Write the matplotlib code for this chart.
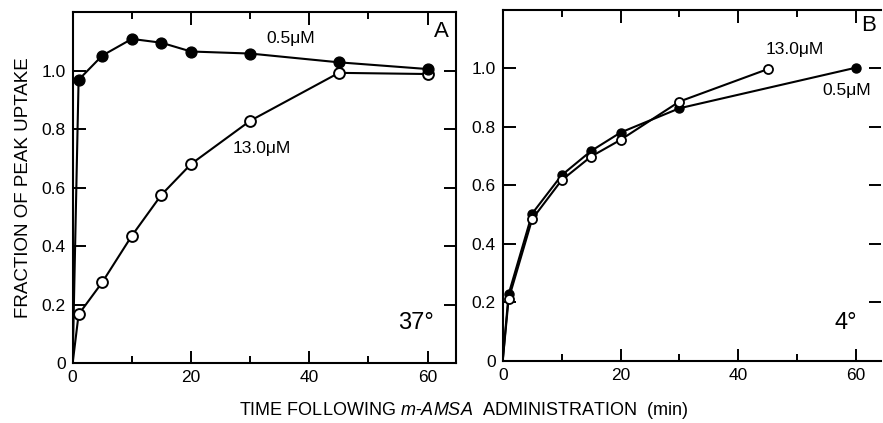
import matplotlib
matplotlib.use("Agg")
import matplotlib.pyplot as plt
from matplotlib.ticker import FixedLocator

plt.rcParams['font.family'] = ['Liberation Sans', 'DejaVu Sans']
plt.rcParams['mathtext.fontset'] = 'custom'
plt.rcParams['mathtext.rm'] = 'Liberation Sans'
plt.rcParams['mathtext.it'] = 'Liberation Sans:italic'

# ---- data ----
time_a = [0, 1, 5, 10, 15, 20, 30, 45, 60]
a_low = [0, 0.968, 1.051, 1.108, 1.095, 1.065, 1.058, 1.028, 1.005]      # 0.5 uM, 37 deg
a_high = [0, 0.166, 0.276, 0.435, 0.575, 0.680, 0.828, 0.992, 0.988]     # 13.0 uM, 37 deg

time_b_low = [0, 1, 5, 10, 15, 20, 30, 60]
b_low = [0, 0.228, 0.504, 0.635, 0.718, 0.781, 0.864, 1.003]             # 0.5 uM, 4 deg
time_b_high = [0, 1, 5, 10, 15, 20, 30, 45]
b_high = [0, 0.211, 0.485, 0.618, 0.699, 0.756, 0.887, 0.998]             # 13.0 uM, 4 deg

yticks = [0, 0.2, 0.4, 0.6, 0.8, 1.0]
ytick_labels = ['0', '0.2', '0.4', '0.6', '0.8', '1.0']
xticks = [0, 20, 40, 60]
xtick_labels = ['0', '20', '40', '60']
xminor = [10, 30, 50]

fig = plt.figure(figsize=(8.83, 4.23), dpi=100)
axA = fig.add_axes([0.0823, 0.1418, 0.5164 - 0.0823, 0.9716 - 0.1418])
axB = fig.add_axes([0.5693, 0.1466, 0.9977 - 0.5693, 0.9764 - 0.1466])

def style(ax, xmax):
    ax.set_xlim(0, xmax)
    ax.set_ylim(0, 1.2)
    ax.set_yticks(yticks, ytick_labels)
    ax.set_xticks(xticks, xtick_labels)
    ax.xaxis.set_minor_locator(FixedLocator(xminor))
    ax.tick_params(which='both', direction='in', top=True, right=True,
                   labelsize=12.5, width=1.4, pad=5)
    ax.tick_params(which='major', length=9)
    ax.tick_params(which='minor', length=5)
    for s in ax.spines.values():
        s.set_linewidth(1.5)

style(axA, 64.8)
style(axB, 64.2)
axB.spines['right'].set_visible(False)

lw = 1.5
axA.plot(time_a, a_high, '-', color='black', lw=lw, zorder=2)
axA.plot(time_a[1:], a_high[1:], 'o', color='black', mfc='white', mec='black',
         ms=7.8, mew=1.4, zorder=3)
axA.plot(time_a, a_low, '-', color='black', lw=lw, zorder=4)
axA.plot(time_a[1:], a_low[1:], 'o', color='black', ms=7.8, zorder=5)

axB.plot(time_b_high, b_high, '-', color='black', lw=lw, zorder=2)
axB.plot(time_b_low, b_low, '-', color='black', lw=lw, zorder=2)
axB.plot(time_b_low[1:], b_low[1:], 'o', color='black', ms=6.5, zorder=3)
axB.plot(time_b_high[1:], b_high[1:], 'o', color='black', mfc='white', mec='black',
         ms=6.5, mew=1.3, zorder=4)

axA.text(32.8, 1.11, '0.5μM', fontsize=12.5, ha='left', va='center')
axA.text(27.0, 0.732, '13.0μM', fontsize=12.5, ha='left', va='center')
axA.text(61.0, 1.134, 'A', fontsize=16, ha='left', va='center')
axA.text(55.0, 0.136, '37°', fontsize=17, ha='left', va='center')

axB.text(44.7, 1.066, '13.0μM', fontsize=12.5, ha='left', va='center')
axB.text(54.3, 0.924, '0.5μM', fontsize=12.5, ha='left', va='center')
axB.text(60.8, 1.146, 'B', fontsize=16, ha='left', va='center')
axB.text(56.3, 0.131, '4°', fontsize=17, ha='left', va='center')

axA.set_ylabel('FRACTION OF PEAK UPTAKE', fontsize=13.5, labelpad=7)
fig.text(0.525, 0.03, r'TIME FOLLOWING $\it{m}$-$\it{AMSA}$  ADMINISTRATION  (min)',
         fontsize=13, ha='center', va='center')

fig.savefig('out.png', dpi=100)
